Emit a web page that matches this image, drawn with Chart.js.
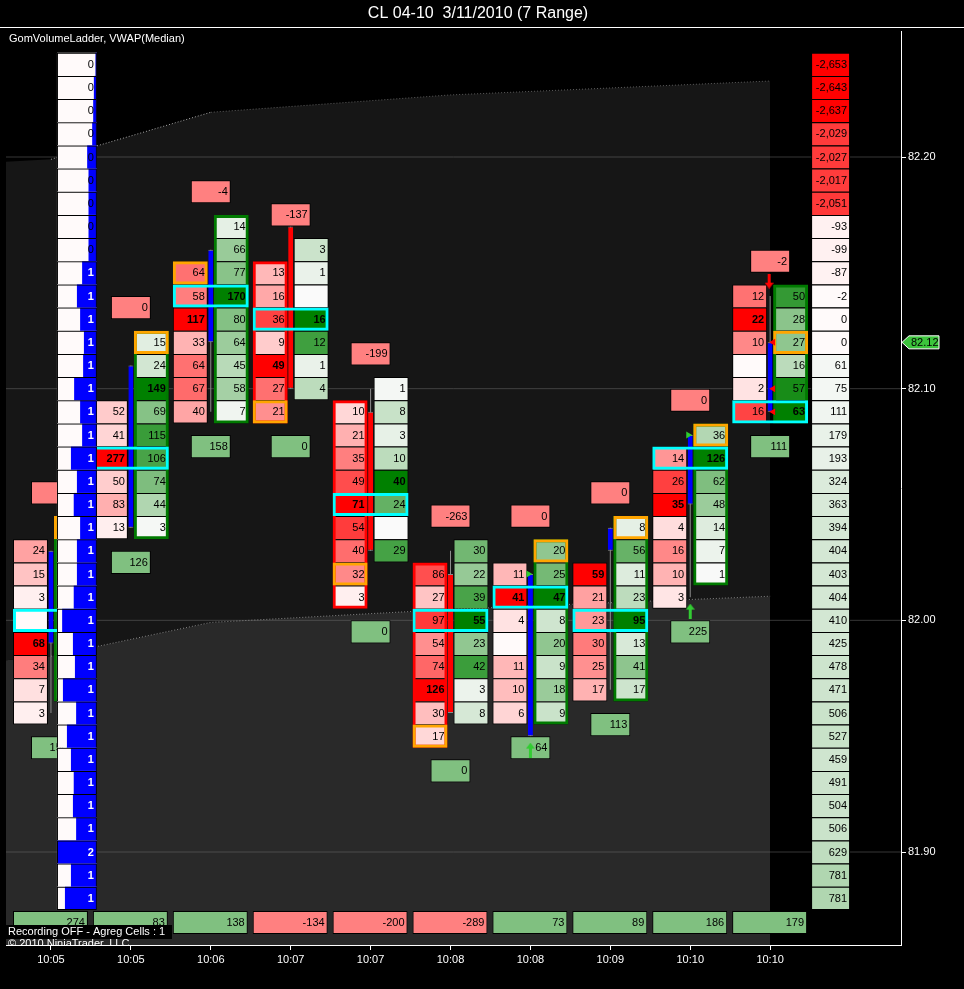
<!DOCTYPE html>
<html>
<head>
<meta charset="utf-8">
<title>CL 04-10 3/11/2010 (7 Range)</title>
<script src="https://cdn.jsdelivr.net/npm/chart.js@4.4.1/dist/chart.umd.min.js"></script>
<style>
html,body{margin:0;padding:0;background:#000;overflow:hidden;}
canvas{display:block;}
</style>
</head>
<body>
<canvas id="chart" width="964" height="989"></canvas>
<script>
// ---------------- DATA ----------------
const titleText = 'CL 04-10  3/11/2010 (7 Range)';
const subtitleText = 'GomVolumeLadder, VWAP(Median)';
const timeLabels = ['10:05','10:05','10:06','10:07','10:07','10:08','10:08','10:09','10:10','10:10'];
const priceTicks = [81.90, 82.00, 82.10, 82.20];

const candleOpen  = [81.99, 82.04, 82.12, 82.17, 82.09, 82.02, 81.95, 82.03, 82.05, 82.09];
const candleHigh  = [82.03, 82.11, 82.16, 82.17, 82.10, 82.03, 82.02, 82.04, 82.08, 82.14];
const candleLow   = [81.96, 82.04, 82.09, 82.10, 82.03, 81.96, 81.95, 81.97, 82.01, 82.09];
const candleClose = [82.03, 82.11, 82.16, 82.10, 82.03, 81.96, 82.02, 82.04, 82.08, 82.12];

const bidTop = [82.03, 82.09, 82.15, 82.15, 82.09, 82.02, 82.02, 82.02, 82.07, 82.14];
const bidVolume = [
  [24, 15, 3, 0, 68, 34, 7, 3],
  [52, 41, 277, 50, 83, 13],
  [64, 58, 117, 33, 64, 67, 40],
  [13, 16, 36, 9, 49, 27, 21],
  [10, 21, 35, 49, 71, 54, 40, 32, 3],
  [86, 27, 97, 54, 74, 126, 30, 17],
  [11, 41, 4, 0, 11, 10, 6],
  [59, 21, 23, 30, 25, 17],
  [14, 26, 35, 4, 16, 10, 3],
  [12, 22, 10, 0, 2, 16]
];
const askTop = [82.04, 82.12, 82.17, 82.16, 82.10, 82.03, 82.03, 82.04, 82.08, 82.14];
const askVolume = [
  [6, 40, 55, 60, 135, 57, 45, 30],
  [15, 24, 149, 69, 115, 106, 74, 44, 3],
  [14, 66, 77, 170, 80, 64, 45, 58, 7],
  [3, 1, 0, 16, 12, 1, 4],
  [1, 8, 3, 10, 40, 24, 0, 29],
  [30, 22, 39, 55, 23, 42, 3, 8],
  [20, 25, 47, 8, 20, 9, 18, 9],
  [8, 56, 11, 23, 95, 13, 41, 17],
  [36, 126, 62, 48, 14, 7, 1],
  [50, 28, 27, 16, 57, 63]
];
const lastTradePrice = [82.04, 82.12, 82.15, 82.09, 82.02, 81.95, 82.03, 82.04, 82.08, 82.12];
const lastTradeSide  = ['ask','ask','bid','bid','bid','bid','ask','ask','ask','ask'];

const minDelta = [-9, 0, -4, -137, -199, -263, 0, 0, 0, -2];
const maxDelta = [150, 126, 158, 0, 0, 0, 64, 113, 225, 111];
const barDelta = [274, 83, 138, -134, -200, -289, 73, 89, 186, 179];

const vwapBars  = [-1, 0, 1, 2, 3, 4, 5, 6, 7, 8, 9];
const vwapUpper = [82.1971, 82.1990, 82.2091, 82.2193, 82.2218, 82.2243, 82.2268, 82.2283, 82.2298, 82.2313, 82.2328];
const vwapLower = [81.9814, 81.9845, 81.9918, 81.9991, 82.0010, 82.0029, 82.0047, 82.0062, 82.0076, 82.0090, 82.0104];

const ladderTopPrice = 82.24;
const ladderVolume = [56,122,149,189,390,336,336,336,336,592,800,672,520,552,912,672,592,1040,800,928,672,800,800,928,1392,960,880,1360,832,1200,1040,928,960,832,1600,1040,1280];
const ladderDelta = [-2653,-2643,-2637,-2029,-2027,-2017,-2051,-93,-99,-87,-2,0,0,61,75,111,179,193,324,363,394,404,403,404,410,425,478,471,506,527,459,491,504,506,629,781,781];

const buyArrowBars = [6, 8];
const sellArrowBars = [9];
const rightTriangleMarks = [[6, 82.02], [8, 82.08]];
const leftTriangleMarks = [[9, 82.12], [9, 82.10], [9, 82.09]];
const lastPrice = 82.12;

// ---------------- LAYOUT CONSTANTS ----------------
const FONT = '"Liberation Sans", Arial, Helvetica, sans-serif';
const TICK = 0.01;
const Y_MIN = 81.85986, Y_MAX = 82.25439;
const X_MIN = -0.5625, X_MAX = 10.6375;
const U = 1 / 80;                 // x units per pixel
const COL_IN = 3 * U, COL_OUT = 38 * U, COL_MID = 20.5 * U, COL_PX = 35;
const r2 = v => Math.round(v * 100) / 100;
const bars = timeLabels.map((_, i) => i);
const isUp = i => candleClose[i] > candleOpen[i];

const shadeRed = t => { const c = Math.round(250 * (1 - t)); return `rgb(255,${c},${c})`; };
const shadeGreen = t => `rgb(${Math.round(250 * (1 - t))},${Math.round(250 - 122 * t)},${Math.round(250 * (1 - t))})`;

const datasets = [];
const push = ds => { ds.order = -(datasets.length + 1); datasets.push(ds); return ds; };
const hbar = extra => Object.assign({ type: 'bar', indexAxis: 'y', grouped: false, barThickness: 23, borderSkipped: false, cellRow: true, inflateAmount: 0 }, extra);
const vbar = extra => Object.assign({ type: 'bar', indexAxis: 'x', grouped: false, borderSkipped: false, inflateAmount: 0 }, extra);
const frameWidth = last => c => ({ top: 1, left: 1, right: 1, bottom: last[c.dataIndex] ? 1 : 0 });

// ---- VWAP band fills ----
push({ type: 'line', data: vwapBars.map((b, k) => ({ x: b, y: vwapLower[k] })), borderWidth: 0, pointRadius: 0, fill: 'start', backgroundColor: '#292929' });
push({ type: 'line', data: vwapBars.map((b, k) => ({ x: b, y: vwapUpper[k] })), borderWidth: 0, pointRadius: 0, fill: '-1', backgroundColor: '#161616' });

// ---- grid lines ----
priceTicks.forEach(p => push({ type: 'line', data: [{ x: X_MIN, y: p }, { x: X_MAX, y: p }], borderColor: 'rgba(120,120,120,0.45)', borderWidth: 1, pointRadius: 0, fill: false }));

// ---- VWAP band edges (dotted) ----
push({ type: 'line', data: vwapBars.map((b, k) => ({ x: b, y: vwapUpper[k] })), borderWidth: 1, borderDash: [1, 2], pointRadius: 0, fill: false, borderColor: '#5c5c5c',
  segment: { borderColor: c => c.p0DataIndex === 0 ? 'rgba(0,0,0,0)' : (c.p0DataIndex <= 2 ? '#a8a8a8' : '#5c5c5c') } });
push({ type: 'line', data: vwapBars.map((b, k) => ({ x: b, y: vwapLower[k] })), borderWidth: 1, borderDash: [1, 2], pointRadius: 0, fill: false, borderColor: '#8a8a8a',
  segment: { borderColor: c => c.p0DataIndex === 0 ? 'rgba(0,0,0,0)' : '#8a8a8a' } });

// ---- candle wicks ----
push(vbar({ data: bars.map(i => ({ x: i, y: [candleLow[i], candleHigh[i]] })), barThickness: 1, backgroundColor: '#8c8c8c', borderWidth: 0 }));

// ---- bid / ask cells ----
function sideDataset(tops, vols, isBid) {
  const data = [], bg = [], labels = [], bold = [], last = [];
  tops.forEach((top, i) => {
    const vals = vols[i]; const mx = Math.max(...vals);
    vals.forEach((v, k) => {
      data.push({ x: isBid ? [i - COL_OUT, i - COL_IN] : [i + COL_IN, i + COL_OUT], y: r2(top - k * TICK) });
      bg.push(isBid ? shadeRed(v / mx) : shadeGreen(v / mx));
      labels.push(v ? String(v) : '');
      bold.push(v === mx);
      last.push(k === vals.length - 1);
    });
  });
  return hbar({ data, backgroundColor: bg, borderColor: '#000', borderWidth: frameWidth(last), cellLabels: labels, cellBold: bold });
}
push(sideDataset(bidTop, bidVolume, true));
push(sideDataset(askTop, askVolume, false));

// ---- candle bodies ----
push(vbar({ data: bars.map(i => ({ x: i, y: [candleOpen[i], candleClose[i]] })), barThickness: 5,
  backgroundColor: bars.map(i => isUp(i) ? '#0000ff' : '#ff0000'), borderColor: '#8c8c8c',
  borderWidth: { top: 1, bottom: 1, left: 0, right: 0 } }));

// ---- column borders (ask side for up bars, bid side for down bars) ----
push(vbar({
  data: bars.map(i => {
    const up = isUp(i);
    const top = up ? askTop[i] : bidTop[i];
    const n = (up ? askVolume[i] : bidVolume[i]).length;
    return { x: i + (up ? COL_MID : -COL_MID), y: [r2(top - (n - 1) * TICK) - TICK / 2, top + TICK / 2] };
  }),
  barThickness: COL_PX, backgroundColor: 'rgba(0,0,0,0)', borderColor: bars.map(i => isUp(i) ? '#007a00' : '#ff0000'), borderWidth: 3
}));

// ---- point of control (max total volume row) ----
push(hbar({
  data: bars.map(i => {
    const tot = {};
    bidVolume[i].forEach((v, k) => { const p = r2(bidTop[i] - k * TICK); tot[p] = (tot[p] || 0) + v; });
    askVolume[i].forEach((v, k) => { const p = r2(askTop[i] - k * TICK); tot[p] = (tot[p] || 0) + v; });
    let best = null; Object.keys(tot).forEach(p => { if (best === null || tot[p] > tot[best]) best = p; });
    return { x: [i - COL_OUT, i + COL_OUT], y: +best };
  }),
  backgroundColor: 'rgba(0,0,0,0)', borderColor: '#00ffff', borderWidth: 3
}));

// ---- last trade cell ----
push(hbar({
  data: bars.map(i => ({ x: lastTradeSide[i] === 'bid' ? [i - COL_OUT, i - COL_IN] : [i + COL_IN, i + COL_OUT], y: lastTradePrice[i] })),
  backgroundColor: 'rgba(0,0,0,0)', borderColor: '#ffa500', borderWidth: 3
}));

// ---- delta boxes ----
const barTopPrice = i => Math.max(bidTop[i], askTop[i]);
const barBottomPrice = i => Math.min(r2(bidTop[i] - (bidVolume[i].length - 1) * TICK), r2(askTop[i] - (askVolume[i].length - 1) * TICK));
push(hbar({ data: bars.map(i => ({ x: [i - 20 * U, i + 20 * U], y: barTopPrice(i) + 1.5 * TICK })),
  backgroundColor: '#ff8080', borderColor: '#000', borderWidth: 1, cellLabels: minDelta.map(String) }));
push(hbar({ data: bars.map(i => ({ x: [i - 20 * U, i + 20 * U], y: barBottomPrice(i) - 1.5 * TICK })),
  backgroundColor: '#80c080', borderColor: '#000', borderWidth: 1, cellLabels: maxDelta.map(String) }));
push(hbar({ data: bars.map(i => ({ x: [i - 38 * U, i + 37 * U], y: Y_MIN + 0.97 * TICK })),
  backgroundColor: barDelta.map(v => v < 0 ? '#ff8080' : '#80c080'), borderColor: '#000', borderWidth: 1, cellLabels: barDelta.map(String) }));

// ---- signal markers ----
function makeArrow(color, up) {
  const c = document.createElement('canvas'); c.width = 9; c.height = 15;
  const g = c.getContext('2d'); g.fillStyle = color; g.beginPath();
  const pts = up ? [[4.5,0],[9,6],[6,6],[6,15],[3,15],[3,6],[0,6]] : [[4.5,15],[9,9],[6,9],[6,0],[3,0],[3,9],[0,9]];
  pts.forEach(([x, y], k) => k ? g.lineTo(x, y) : g.moveTo(x, y)); g.closePath(); g.fill();
  return c;
}
push({ type: 'scatter', data: rightTriangleMarks.map(([b, p]) => ({ x: b - 2 * U, y: p })), pointStyle: 'triangle', rotation: 90, pointRadius: 4, backgroundColor: '#2ecc2e', borderWidth: 0 });
push({ type: 'scatter', data: leftTriangleMarks.map(([b, p]) => ({ x: b + 3 * U, y: p })), pointStyle: 'triangle', rotation: -90, pointRadius: 4, backgroundColor: '#ff0000', borderWidth: 0 });
push({ type: 'scatter', data: buyArrowBars.map(b => ({ x: b, y: candleLow[b] - 0.6 * TICK })), pointStyle: makeArrow('#33cc33', true), pointRadius: 5 });
push({ type: 'scatter', data: sellArrowBars.map(b => ({ x: b - 1 * U, y: candleHigh[b] + 0.64 * TICK })), pointStyle: makeArrow('#ff0000', false), pointRadius: 5 });

// ---- left volume ladder ----
const ladderPrices = ladderVolume.map((_, k) => r2(ladderTopPrice - k * TICK));
const ladderLast = ladderVolume.map((_, k) => k === ladderVolume.length - 1);
const LL0 = 6 * U, LL1 = 46 * U;
const maxLadderVol = Math.max(...ladderVolume);
push(hbar({ data: ladderPrices.map(p => ({ x: [LL0, LL1], y: p })), backgroundColor: '#fffafa', borderWidth: 0 }));
push(hbar({ data: ladderPrices.map((p, k) => ({ x: [LL1 - (ladderVolume[k] / maxLadderVol) * (LL1 - LL0), LL1], y: p })), backgroundColor: '#0000ff', borderWidth: 0 }));
const ladderLabels = ladderVolume.map(v => String(Math.round(v / 1000)));
push(hbar({ data: ladderPrices.map(p => ({ x: [LL0, LL1], y: p })), backgroundColor: 'rgba(0,0,0,0)', borderColor: '#000', borderWidth: frameWidth(ladderLast),
  cellLabels: ladderLabels, cellTextColor: ladderLabels.map(s => +s >= 1 ? '#fff' : '#000'), cellBold: ladderLabels.map(s => +s >= 1) }));

// ---- right cumulative delta ladder ----
const LR0 = (bars.length - 1) + 41 * U, LR1 = (bars.length - 1) + 80 * U;
const maxAbsDelta = Math.max(...ladderDelta.map(Math.abs));
push(hbar({ data: ladderPrices.map(p => ({ x: [LR0, LR1], y: p })),
  backgroundColor: ladderDelta.map(v => v <= 0 ? shadeRed(-v / maxAbsDelta) : shadeGreen(v / maxAbsDelta)),
  borderColor: '#000', borderWidth: frameWidth(ladderLast), cellLabels: ladderDelta.map(v => v.toLocaleString('en-US')) }));

// ---------------- PLUGINS ----------------
const bgPlugin = {
  id: 'bg',
  beforeDraw(chart) { const c = chart.ctx; c.save(); c.fillStyle = '#000'; c.fillRect(0, 0, chart.width, chart.height); c.restore(); }
};
const textPlugin = {
  id: 'cellText',
  afterDatasetDraw(chart, args) {
    const ds = chart.data.datasets[args.index];
    if (!ds.cellLabels) return;
    const ctx = chart.ctx;
    ctx.save();
    ctx.textAlign = 'right'; ctx.textBaseline = 'middle';
    args.meta.data.forEach((el, k) => {
      const txt = ds.cellLabels[k]; if (!txt) return;
      const p = el.getProps(['x', 'y', 'base'], true);
      const right = Math.max(p.x, p.base);
      ctx.font = (ds.cellBold && ds.cellBold[k] ? 'bold ' : '') + '11px ' + FONT;
      ctx.fillStyle = ds.cellTextColor ? ds.cellTextColor[k] : '#000';
      ctx.fillText(txt, right - 3, p.y + 0.5);
    });
    ctx.restore();
  }
};
const decoPlugin = {
  id: 'deco',
  afterDraw(chart) {
    const ctx = chart.ctx; const ys = chart.scales.y; const area = chart.chartArea;
    ctx.save();
    ctx.fillStyle = '#fff';
    ctx.fillRect(0, 27, chart.width, 1);
    ctx.textBaseline = 'middle';
    ctx.font = '16px ' + FONT; ctx.textAlign = 'center';
    ctx.fillText(titleText, 478, 14);
    ctx.font = '11px ' + FONT; ctx.textAlign = 'left';
    ctx.fillText(subtitleText, area.left + 3, 39);
    // status box
    ctx.fillStyle = '#000'; ctx.fillRect(area.left, area.bottom - 20, 166, 14);
    ctx.fillStyle = '#fff'; ctx.fillText('Recording OFF - Agreg Cells : 1', area.left + 2, area.bottom - 13);
    ctx.save(); ctx.beginPath(); ctx.rect(0, area.bottom - 6, 300, 6); ctx.clip();
    ctx.textBaseline = 'alphabetic'; ctx.fillText('\u00A9 2010 NinjaTrader, LLC', area.left + 2, area.bottom + 2); ctx.restore();
    // last price tag
    const y = ys.getPixelForValue(lastPrice); const x0 = area.right + 1;
    ctx.beginPath();
    ctx.moveTo(x0, y); ctx.lineTo(x0 + 7, y - 6.5); ctx.lineTo(x0 + 37, y - 6.5); ctx.lineTo(x0 + 37, y + 6.5); ctx.lineTo(x0 + 7, y + 6.5); ctx.closePath();
    ctx.fillStyle = '#3cc43c'; ctx.fill(); ctx.strokeStyle = '#fff'; ctx.lineWidth = 1; ctx.stroke();
    ctx.fillStyle = '#000'; ctx.textBaseline = 'middle'; ctx.font = '11px ' + FONT;
    ctx.fillText(lastPrice.toFixed(2), x0 + 9, y + 0.5);
    ctx.restore();
  }
};

Chart.defaults.font.family = FONT;
const chart = new Chart(document.getElementById('chart'), {
  type: 'bar',
  data: { datasets },
  options: {
    responsive: false, animation: false, devicePixelRatio: 1, events: [],
    layout: { padding: { left: 5, top: 31, right: 0, bottom: 0 } },
    plugins: { legend: { display: false }, tooltip: { enabled: false }, title: { display: false } },
    scales: {
      x: {
        type: 'linear', position: 'bottom', min: X_MIN, max: X_MAX, offset: false,
        afterBuildTicks: s => { s.ticks = timeLabels.map((_, i) => ({ value: i })); },
        afterFit: s => { s.height = 44; },
        ticks: { color: '#fff', font: { size: 11, family: FONT }, padding: 3, maxRotation: 0, autoSkip: false, callback: v => timeLabels[v] ?? '' },
        grid: { offset: false, drawOnChartArea: false, drawTicks: true, tickLength: 5, tickColor: '#fff' },
        border: { color: '#fff', width: 1 }
      },
      y: {
        type: 'linear', position: 'right', min: Y_MIN, max: Y_MAX, offset: false, beginAtZero: false,
        afterBuildTicks: s => { s.ticks = priceTicks.map(v => ({ value: v })); },
        afterFit: s => { s.width = 63; },
        ticks: { color: '#fff', font: { size: 11, family: FONT }, padding: 2, callback: v => Number(v).toFixed(2) },
        grid: { offset: false, drawOnChartArea: false, drawTicks: true, tickLength: 5, tickColor: '#fff' },
        border: { color: '#fff', width: 1 }
      }
    }
  },
  plugins: [bgPlugin, textPlugin, decoPlugin]
});
// set row thickness to exactly one price tick in pixels
const ysc = chart.scales.y;
const rowPx = Math.abs(ysc.getPixelForValue(82.00) - ysc.getPixelForValue(82.01));
chart.data.datasets.forEach(d => { if (d.cellRow) d.barThickness = rowPx; });
chart.update();
</script>
</body>
</html>
